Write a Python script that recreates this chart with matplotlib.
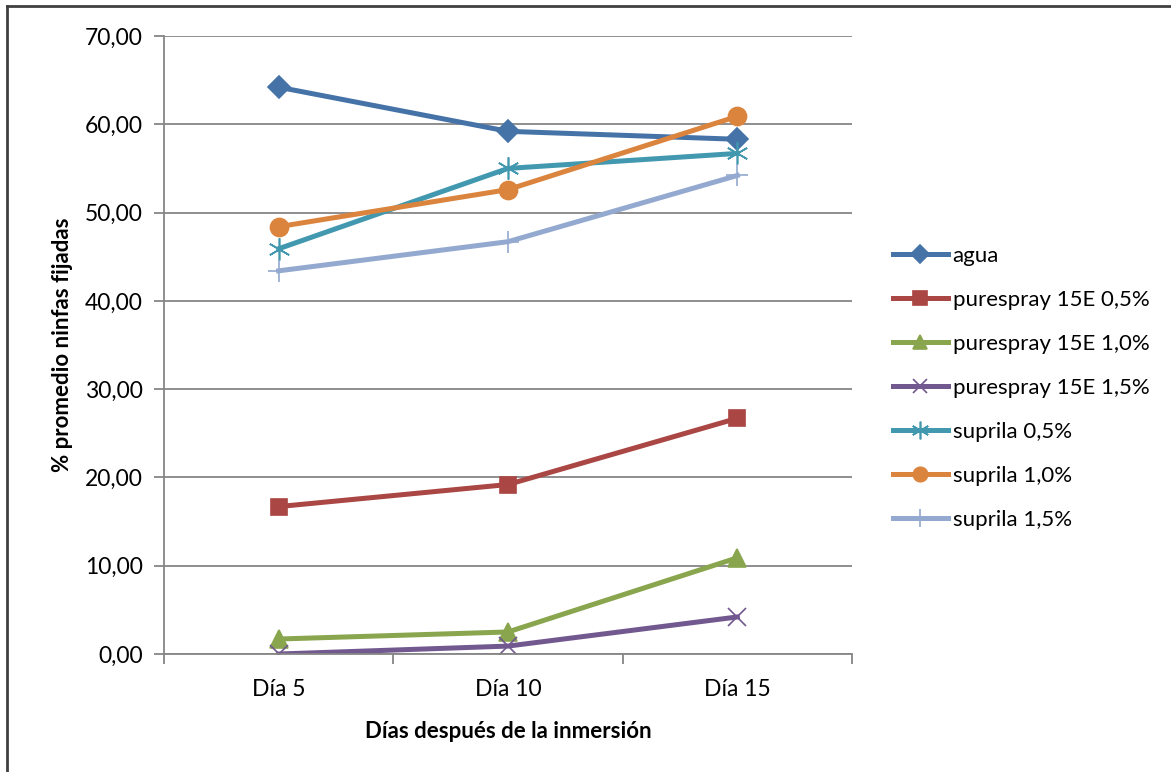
import numpy as np
import matplotlib.pyplot as plt
from matplotlib.lines import Line2D

plt.rcParams['font.family'] = ['Lato', 'DejaVu Sans']

dias = ['Día 5', 'Día 10', 'Día 15']
agua = [64.2, 59.2, 58.3]
pure_05 = [16.7, 19.2, 26.7]
pure_10 = [1.7, 2.5, 10.9]
pure_15 = [0.0, 0.9, 4.2]
sup_05 = [45.9, 55.0, 56.7]
sup_10 = [48.4, 52.6, 60.9]
sup_15 = [43.4, 46.7, 54.2]

series = [
    ('agua', agua, '#4572A7', 'D', 11),
    ('purespray 15E 0,5%', pure_05, '#AA4643', 's', 12),
    ('purespray 15E 1,0%', pure_10, '#89A54E', '^', 13),
    ('purespray 15E 1,5%', pure_15, '#71588F', 'x', 13),
    ('suprila 0,5%', sup_05, '#4198AF', (6, 2, 0), 16),
    ('suprila 1,0%', sup_10, '#DB843D', 'o', 13),
    ('suprila 1,5%', sup_15, '#93A9CF', '+', 16),
]

fig = plt.figure(figsize=(11.71, 7.72), dpi=100)
ax = fig.add_axes([0.140, 0.1528, 0.5876, 0.8006])

x = np.arange(len(dias))
for name, vals, col, mk, ms in series:
    ax.plot(x, vals, color=col, lw=3.6, marker=mk, markersize=ms,
            markeredgewidth=1.2, markeredgecolor=col, label=name)

yt = np.arange(0, 71, 10)
ax.set_xlim(-0.5, 2.5)
ax.set_ylim(0, 70)
ax.set_yticks(yt)
ax.set_yticklabels([('%.2f' % v).replace('.', ',') for v in yt])
ax.set_xticks(x)
ax.set_xticklabels(dias)
ax.set_xticks([-0.5, 0.5, 1.5, 2.5], minor=True)
ax.tick_params(axis='x', which='major', length=0, labelsize=16.5, pad=18)
ax.tick_params(axis='x', which='minor', length=7, color='#868686', width=1.3)
ax.tick_params(axis='y', length=7, color='#868686', width=1.3, labelsize=16.5, pad=8)

ax.grid(axis='y', color='#868686', lw=1.3)
ax.set_axisbelow(True)
for s in ['top', 'right']:
    ax.spines[s].set_visible(False)
for s in ['left', 'bottom']:
    ax.spines[s].set_color('#868686')
    ax.spines[s].set_linewidth(1.3)

ax.set_xlabel('Días después de la inmersión', fontsize=16, fontweight='bold', labelpad=15)
ax.set_ylabel('% promedio ninfas fijadas', fontsize=16, fontweight='bold', labelpad=9)

handles = [Line2D([], [], color=col, lw=3.6, marker=mk, markersize=ms * 0.8,
                  markeredgewidth=1.2, markeredgecolor=col)
           for name, vals, col, mk, ms in series]
ax.legend(handles, [s[0] for s in series], loc='center left',
          bbox_to_anchor=(1.03, 0.43), frameon=False, fontsize=16,
          handlelength=2.5, handletextpad=0.2, labelspacing=1.08)

# borde exterior del gráfico
fig.add_artist(Line2D([7 / 1171, 7 / 1171], [0, 1 - 6 / 772], color='#404040', lw=2,
                      transform=fig.transFigure))
fig.add_artist(Line2D([7 / 1171, 1], [1 - 6 / 772, 1 - 6 / 772], color='#404040', lw=2,
                      transform=fig.transFigure))

fig.savefig('out.png', dpi=100)
